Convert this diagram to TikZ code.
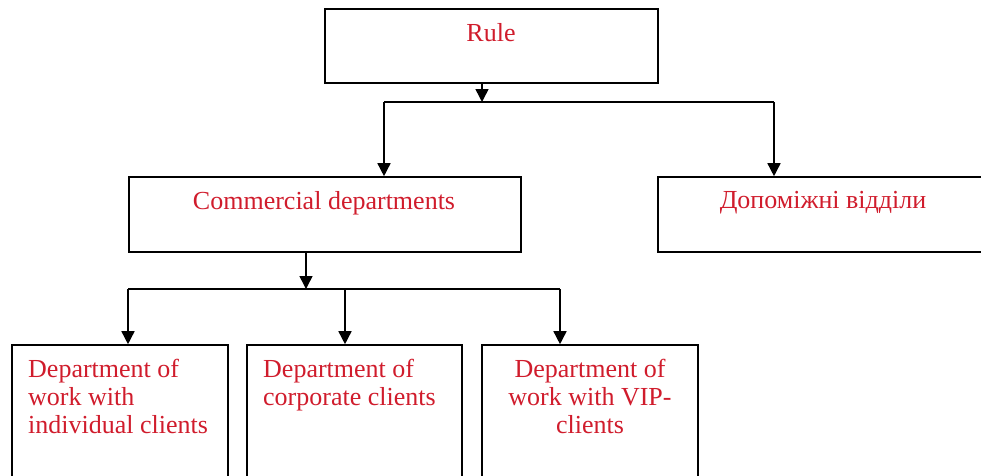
\documentclass[tikz,border=0pt]{standalone}
\usepackage{fontspec}
\setmainfont{Liberation Serif}
\usetikzlibrary{arrows.meta}
\definecolor{txtred}{RGB}{208,28,44}
\begin{document}
\begin{tikzpicture}[x=1pt,y=-1pt,
  box/.style={draw, line width=1.6pt, rectangle, inner sep=0pt},
  lbl/.style={text=txtred, font=\fontsize{26}{28}\selectfont, inner sep=0pt},
  conn/.style={line width=1.5pt},
  arr/.style={conn, -{Triangle[width=13pt,length=13pt]}}]
\useasboundingbox (0,0) rectangle (981,475);
\clip (0,0) rectangle (981,475);
% boxes
\node[box, minimum width=333pt, minimum height=74pt] (rule) at (491.5,46) {};
\node[box, minimum width=392pt, minimum height=75pt] (com) at (325,214.5) {};
\node[box, minimum width=342pt, minimum height=75pt] (aux) at (829,214.5) {};
\node[box, minimum width=216pt, minimum height=175pt] (b1) at (120,432.5) {};
\node[box, minimum width=215pt, minimum height=175pt] (b2) at (354.5,432.5) {};
\node[box, minimum width=216pt, minimum height=175pt] (b3) at (590,432.5) {};
% texts
\node[lbl, anchor=base] (trule) at (491,41) {Rule};
\node[lbl, anchor=base] (tcom) at (324,209) {Commercial departments};
\node[lbl, anchor=base] (taux) at (823,208) {Допоміжні відділи};
\node[lbl, anchor=north west, align=left] (tb1) at (28,359) {Department of\\work with\\individual clients};
\node[lbl, anchor=north west, align=left] (tb2) at (263,359) {Department of\\corporate clients};
\node[lbl, anchor=north, align=center] (tb3) at (590,359) {Department of\\work with VIP-\\clients};
% connectors level 1
\coordinate (j1) at (482,102);
\coordinate (h1l) at (384,102);
\coordinate (h1r) at (774,102);
\draw[arr] (rule.south -| j1) -- (j1);
\draw[conn] (h1l) -- (h1r);
\draw[arr] (h1l) -- (h1l |- com.north);
\draw[arr] (h1r) -- (h1r |- aux.north);
% connectors level 2
\coordinate (j2) at (306,289);
\coordinate (h2l) at (128,289);
\coordinate (h2m) at (345,289);
\coordinate (h2r) at (560,289);
\draw[arr] (com.south -| j2) -- (j2);
\draw[conn] (h2l) -- (h2r);
\draw[arr] (h2l) -- (h2l |- b1.north);
\draw[arr] (h2m) -- (h2m |- b2.north);
\draw[arr] (h2r) -- (h2r |- b3.north);
\end{tikzpicture}
\end{document}
